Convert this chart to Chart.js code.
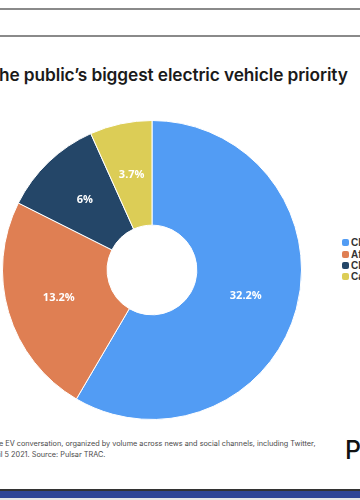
<!DOCTYPE html>
<html>
<head>
<meta charset="utf-8">
<script src="https://cdn.jsdelivr.net/npm/chart.js@4.4.1/dist/chart.umd.min.js"></script>
<style>
  html, body { margin:0; padding:0; background:#fff; }
  body { width:360px; height:500px; position:relative; overflow:hidden; font-family:"Inter","DejaVu Sans",sans-serif; }
  .rule { position:absolute; left:0; width:360px; height:2px; background:#8a8a8a; }
  #title { position:absolute; left:-1px; top:64px; white-space:nowrap; font-size:17.3px; font-weight:600; color:#1a1a1a; letter-spacing:-0.1px; }
  #chartBox { position:absolute; left:2px; top:120px; width:300px; height:300px; }
  #legend { position:absolute; left:342px; top:237px; font-size:10px; color:#333; font-family:"Liberation Sans",Arial,sans-serif; font-weight:bold; }
  .li { height:11.4px; line-height:9px; white-space:nowrap; display:flex; align-items:center; }
  .sw { display:inline-block; width:7px; height:7px; border-radius:2px; margin-right:2px; }
  #foot { position:absolute; left:-1px; top:439px; font-size:7.3px; line-height:10.5px; color:#4a4a4a; white-space:nowrap; }
  #logo { position:absolute; left:345px; top:435px; font-size:25px; font-weight:500; color:#111; font-family:"Inter",sans-serif; }
  #bar1 { position:absolute; left:0; top:489px; width:360px; height:2px; background:#333; }
  #bar2 { position:absolute; left:0; top:491px; width:360px; height:7px; background:#2f4596; }
  #bar3 { position:absolute; left:0; top:498px; width:360px; height:2px; background:#e6e6e6; }
</style>
</head>
<body>
<div class="rule" style="top:8px"></div>
<div class="rule" style="top:35px"></div>
<div id="title">he public’s biggest electric vehicle priority</div>
<div id="chartBox"><canvas id="c"></canvas></div>
<div id="legend"></div>
<div id="foot">e EV conversation, organized by volume across news and social channels, including Twitter,<br>il 5 2021. Source: Pulsar TRAC.</div>
<div id="logo">P</div>
<div id="bar1"></div><div id="bar2"></div><div id="bar3"></div>
<script>
const categories = ["Charging infrastructure", "Affordability", "Climate impact", "Car range"];
const shares = [32.2, 13.2, 6, 3.7];
const shareLabels = ["32.2%", "13.2%", "6%", "3.7%"];
const colors = ["#529cf4", "#df7f53", "#244668", "#dccd56"];

const legend = document.getElementById('legend');
categories.forEach((c, i) => {
  const d = document.createElement('div');
  d.className = 'li';
  d.innerHTML = '<span class="sw" style="background:' + colors[i] + '"></span>' + c;
  legend.appendChild(d);
});

const valueLabels = {
  id: 'valueLabels',
  afterDatasetsDraw(chart) {
    const ctx = chart.ctx;
    const meta = chart.getDatasetMeta(0);
    ctx.save();
    ctx.fillStyle = '#ffffff';
    ctx.font = 'bold 11px "Open Sans", sans-serif';
    ctx.textAlign = 'center';
    ctx.textBaseline = 'middle';
    meta.data.forEach((arc, i) => {
      const p = arc.tooltipPosition();
      ctx.fillText(shareLabels[i], p.x, p.y);
    });
    ctx.restore();
  }
};

new Chart(document.getElementById('c'), {
  type: 'doughnut',
  data: {
    labels: categories,
    datasets: [{
      data: shares,
      backgroundColor: colors,
      borderColor: '#ffffff',
      borderWidth: 1
    }]
  },
  options: {
    responsive: true,
    maintainAspectRatio: false,
    animation: false,
    cutout: '30%',
    layout: { padding: 0 },
    plugins: { legend: { display: false }, tooltip: { enabled: false } }
  },
  plugins: [valueLabels]
});
</script>
</body>
</html>
